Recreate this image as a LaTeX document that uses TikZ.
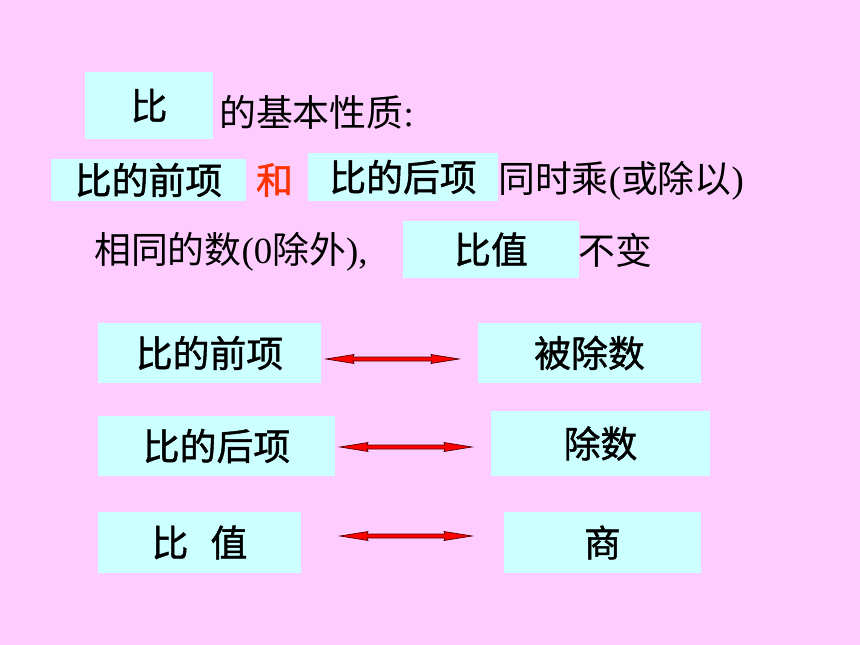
\documentclass[tikz,border=0pt]{standalone}
\usepackage{fontspec}
\setmainfont{Noto Sans CJK SC}
\newfontfamily\tms{Liberation Serif}
\newfontfamily\heavy[FakeBold=1.2]{Noto Sans CJK SC}
\usetikzlibrary{calc}
\definecolor{bgpink}{RGB}{255,204,255}
\definecolor{boxcyan}{RGB}{204,255,255}
\definecolor{hered}{RGB}{255,51,0}
\definecolor{arrline}{RGB}{80,0,0}
\newcommand\tm[1]{{\tms #1}}
\newcommand\dblarr[2]{\filldraw[arrfill] (#1) -- ($(#1)+(28,-4.5)$) -- ($(#1)+(27,-2)$) -- ($(#2)+(-27,-2)$) -- ($(#2)+(-28,-4.5)$) -- (#2) -- ($(#2)+(-28,4.5)$) -- ($(#2)+(-27,2)$) -- ($(#1)+(27,2)$) -- ($(#1)+(28,4.5)$) -- cycle;}
\begin{document}
\begin{tikzpicture}[x=1bp,y=-1bp,
  box/.style={fill=boxcyan, draw=none, inner sep=0pt, text=black, font=\heavy\fontsize{37}{37}\selectfont},
  plain/.style={inner sep=0pt, anchor=west, text=black, font=\fontsize{37}{37}\selectfont},
  arrfill/.style={fill=red, draw=arrline, line width=0.7bp, line join=miter}]
\fill[bgpink] (0,0) rectangle (860,645);
\useasboundingbox (0,0) rectangle (860,645);
% top statement
\node[box, minimum width=128bp, minimum height=67bp] (bi) at (149,105.5) {比};
\node[plain] (t1) at (219,112) {的基本性质\tm{:}};
\node[box, minimum width=195bp, minimum height=42bp] (qx1) at (148.5,180) {比的前项};
\node[box, fill=none, text=hered] (he) at (274.5,180) {和};
\node[box, minimum width=190bp, minimum height=48bp] (hx1) at (403,177) {比的后项};
\node[plain] (t2) at (498,181) {同时乘\tm{(}或除以\tm{)}};
\node[plain] (t3) at (94,252) {相同的数\tm{(0}除外\tm{),}};
\node[box, minimum width=176bp, minimum height=57bp] (bz1) at (491,249.5) {比值};
\node[plain] (t4) at (578,250) {不变};
% correspondence
\node[box, minimum width=223bp, minimum height=60bp] (qx2) at (209.5,353) {比的前项};
\node[box, minimum width=223bp, minimum height=60bp] (bcs) at (589.5,353) {被除数};
\node[box, minimum width=237bp, minimum height=60bp] (hx2) at (216.5,446) {比的后项};
\node[box, minimum width=219bp, minimum height=65bp] (cs) at (600.5,443.5) {除数};
\node[box, minimum width=203bp, minimum height=61bp] (bz2) at (199.5,542.5) {比\hspace{0.6em}值};
\node[box, minimum width=197bp, minimum height=61bp] (sh) at (602.5,542.5) {商};
\coordinate (a1l) at (326,359);
\coordinate (a1r) at (459,359);
\coordinate (a2l) at (340,447);
\coordinate (a2r) at (472,447);
\coordinate (a3l) at (340,536);
\coordinate (a3r) at (472,536);
\dblarr{a1l}{a1r}
\dblarr{a2l}{a2r}
\dblarr{a3l}{a3r}
\end{tikzpicture}
\end{document}
